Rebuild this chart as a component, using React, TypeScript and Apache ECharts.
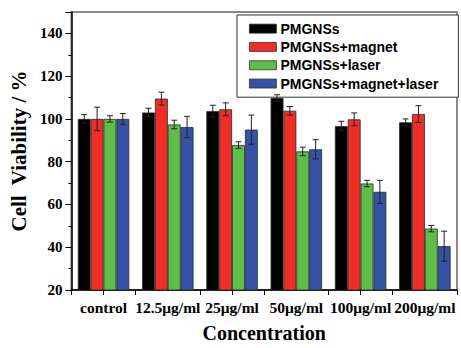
import React, { useEffect, useRef } from "react";
import * as echarts from "echarts";

const categories = ["control", "12.5μg/ml", "25μg/ml", "50μg/ml", "100μg/ml", "200μg/ml"];
const seriesNames = ["PMGNSs", "PMGNSs+magnet", "PMGNSs+laser", "PMGNSs+magnet+laser"];
const pmgnss = [100, 103, 103.6, 109.8, 96.7, 98.4];
const pmgnssErr = [2, 2, 2.8, 1.5, 2.2, 1.6];
const magnet = [100, 109.5, 104.5, 103.8, 99.8, 102.3];
const magnetErr = [5.5, 3, 3, 2, 3, 3.9];
const laser = [100, 97.4, 87.8, 84.8, 69.8, 48.7];
const laserErr = [1.5, 2, 1.5, 2, 1.5, 1.5];
const magnetLaser = [100, 96.2, 95, 85.8, 65.9, 40.5];
const magnetLaserErr = [2.5, 5, 6.8, 4.5, 5.4, 7];
const colors = ["#000000", "#ee2e27", "#5fbd49", "#3552a4"];

const values = [pmgnss, magnet, laser, magnetLaser];
const errors = [pmgnssErr, magnetErr, laserErr, magnetLaserErr];

const SERIF = "'Liberation Serif', 'Times New Roman', serif";
const SANS = "'Liberation Sans', Arial, sans-serif";

export default function App() {
  const ref = useRef<HTMLDivElement>(null);
  useEffect(() => {
    if (!ref.current) return;
    const chart = echarts.init(ref.current, null, { renderer: "svg" });
    const barCategoryGap = 0.2;
    const barSeries = seriesNames.map((name, k) => ({
      name,
      type: "bar",
      xAxisIndex: 0,
      yAxisIndex: 0,
      data: values[k],
      barGap: "0%",
      barCategoryGap: "20%",
      itemStyle: { color: colors[k], borderColor: "#2a2a2a", borderWidth: 0.8 },
    }));
    const errSeries = seriesNames.map((name, k) => ({
      type: "custom",
      name: name + "-err",
      xAxisIndex: 0,
      yAxisIndex: 0,
      z: 10,
      data: values[k].map((v, i) => [i, v, errors[k][i]]),
      renderItem: (params: any, api: any) => {
        const i = api.value(0);
        const v = api.value(1);
        const e = api.value(2);
        const band = api.size([1, 0])[0];
        const bw = (band * (1 - barCategoryGap)) / 4;
        const cx = api.coord([i, v])[0] + (k - 1.5) * bw;
        const yTop = api.coord([i, v + e])[1];
        const yBot = api.coord([i, v - e])[1];
        const cap = 3;
        const style = { stroke: "#222", lineWidth: 1 };
        return {
          type: "group",
          children: [
            { type: "line", shape: { x1: cx, y1: yTop, x2: cx, y2: yBot }, style },
            { type: "line", shape: { x1: cx - cap, y1: yTop, x2: cx + cap, y2: yTop }, style },
            { type: "line", shape: { x1: cx - cap, y1: yBot, x2: cx + cap, y2: yBot }, style },
          ],
        };
      },
    }));
    chart.setOption({
      animation: false,
      grid: {
        left: 69,
        right: 4,
        top: 12,
        bottom: 49,
        show: true,
        borderColor: "#8a8a8a",
        borderWidth: 2,
        backgroundColor: "transparent",
      },
      legend: {
        data: seriesNames,
        orient: "vertical",
        left: 237,
        top: 15,
        itemWidth: 27,
        itemHeight: 9,
        itemGap: 1,
        padding: [5, 20, 5, 12],
        borderColor: "#333",
        borderWidth: 1,
        backgroundColor: "#fff",
        icon: "rect",
        itemStyle: { borderColor: "#333", borderWidth: 0.8 },
        textStyle: { fontFamily: SANS, fontWeight: "bold", fontSize: 14, color: "#000", lineHeight: 17.3, padding: [0, 0, 0, -1] },
      },
      xAxis: [
        {
          type: "category",
          data: categories,
          position: "bottom",
          axisLine: { lineStyle: { color: "#000", width: 1.5 } },
          axisTick: { show: true, alignWithLabel: false, length: 5, lineStyle: { color: "#000", width: 1 } },
          axisLabel: { fontFamily: SERIF, fontWeight: "bold", fontSize: 15.5, color: "#000", margin: 9, interval: 0 },
          name: "Concentration",
          nameLocation: "middle",
          nameGap: 33,
          nameTextStyle: { fontFamily: SERIF, fontWeight: "bold", fontSize: 20, color: "#000" },
        },
        {
          type: "category",
          data: categories,
          position: "bottom",
          axisLine: { show: false },
          axisTick: { show: true, alignWithLabel: true, length: 5, lineStyle: { color: "#000", width: 1 } },
          axisLabel: { show: false },
        },
      ],
      yAxis: {
        type: "value",
        min: 20,
        max: 150,
        interval: 20,
        splitLine: { show: false },
        axisLine: { show: true, lineStyle: { color: "#000", width: 1.5 } },
        axisTick: { show: true, length: 6, lineStyle: { color: "#000", width: 1 } },
        minorTick: { show: true, splitNumber: 2, length: 3, lineStyle: { color: "#000", width: 1 } },
        axisLabel: { fontFamily: SERIF, fontWeight: "bold", fontSize: 15, color: "#000", margin: 9, showMaxLabel: false },
        name: "Cell  Viability / %",
        nameLocation: "middle",
        nameGap: 37,
        nameTextStyle: { fontFamily: SERIF, fontWeight: "bold", fontSize: 21, color: "#000" },
      },
      series: [...barSeries, ...errSeries],
    });
    return () => chart.dispose();
  }, []);
  return <div ref={ref} style={{ width: 461, height: 348, position: "absolute", left: 0, top: 0 }} />;
}
